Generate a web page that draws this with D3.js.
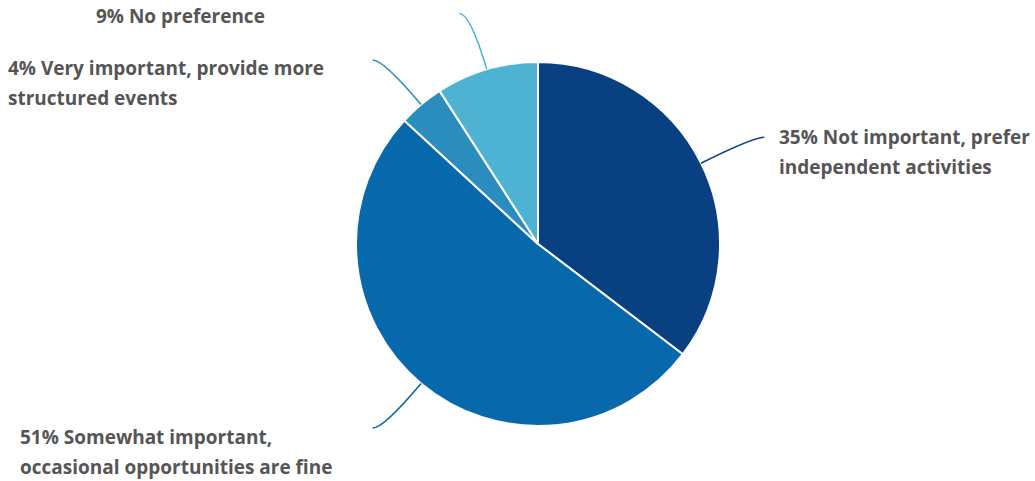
<!DOCTYPE html>
<html>
<head>
<meta charset="utf-8">
<script src="https://cdn.jsdelivr.net/npm/d3@7"></script>
<style>
  html, body { margin: 0; padding: 0; background: #fff; }
  svg text { font-family: "Open Sans", "Lato", sans-serif; font-weight: 700; fill: #555; }
</style>
</head>
<body>
<svg id="chart" width="1035" height="481"></svg>
<script>
// Survey answers, in the order the slices run clockwise from 12 o'clock
const categories = [
  "Not important, prefer|independent activities",
  "Somewhat important,|occasional opportunities are fine",
  "Very important, provide more|structured events",
  "No preference"
];
const values = [35, 51, 4, 9];
const colors = ["#084081", "#0868ac", "#2b8cbe", "#4eb3d3"];

const width = 1035, height = 481;
const cx = 538, cy = 244, radius = 182;

const svg = d3.select("#chart");
const g = svg.append("g").attr("transform", `translate(${cx},${cy})`);

const pie = d3.pie().sort(null).value(d => d.value);
const arcs = pie(values.map((v, i) => ({ value: v, label: categories[i], color: colors[i] })));

const arc = d3.arc().innerRadius(0).outerRadius(radius);

g.selectAll("path.slice")
  .data(arcs)
  .join("path")
  .attr("class", "slice")
  .attr("d", arc)
  .attr("fill", d => d.data.color)
  .attr("stroke", "#fff")
  .attr("stroke-width", 2)
  .attr("stroke-linejoin", "round");

// leader lines: from the rim, bending out to a short horizontal tail
const polar = (a, r) => [Math.sin(a) * r, -Math.cos(a) * r];
g.selectAll("path.leader")
  .data(arcs)
  .join("path")
  .attr("class", "leader")
  .attr("fill", "none")
  .attr("stroke", d => d.data.color)
  .attr("stroke-width", 1.6)
  .attr("d", d => {
    const mid = (d.startAngle + d.endAngle) / 2;
    const side = Math.sin(mid) >= 0 ? 1 : -1;
    const s = polar(mid, radius);
    const e = polar(mid, radius * 1.32);
    const t = [e[0] + side * 11, e[1]];
    return `M${s[0]},${s[1]}Q${e[0]},${e[1]} ${t[0]},${t[1]}`;
  });

// text blocks beside each leader (left edge, first baseline)
const labelSpots = [[779, 144], [20, 444], [8, 75], [96, 23]];
const lineGap = 30;

svg.selectAll("text.label")
  .data(arcs)
  .join("text")
  .attr("class", "label")
  .attr("font-size", 19)
  .attr("x", (d, i) => labelSpots[i][0])
  .attr("y", (d, i) => labelSpots[i][1])
  .each(function (d, i) {
    const lines = d.data.label.split("|");
    lines[0] = `${d.data.value}% ${lines[0]}`;
    d3.select(this).selectAll("tspan")
      .data(lines)
      .join("tspan")
      .attr("x", labelSpots[i][0])
      .attr("dy", (l, k) => k === 0 ? 0 : lineGap)
      .text(l => l);
  });
</script>
</body>
</html>
